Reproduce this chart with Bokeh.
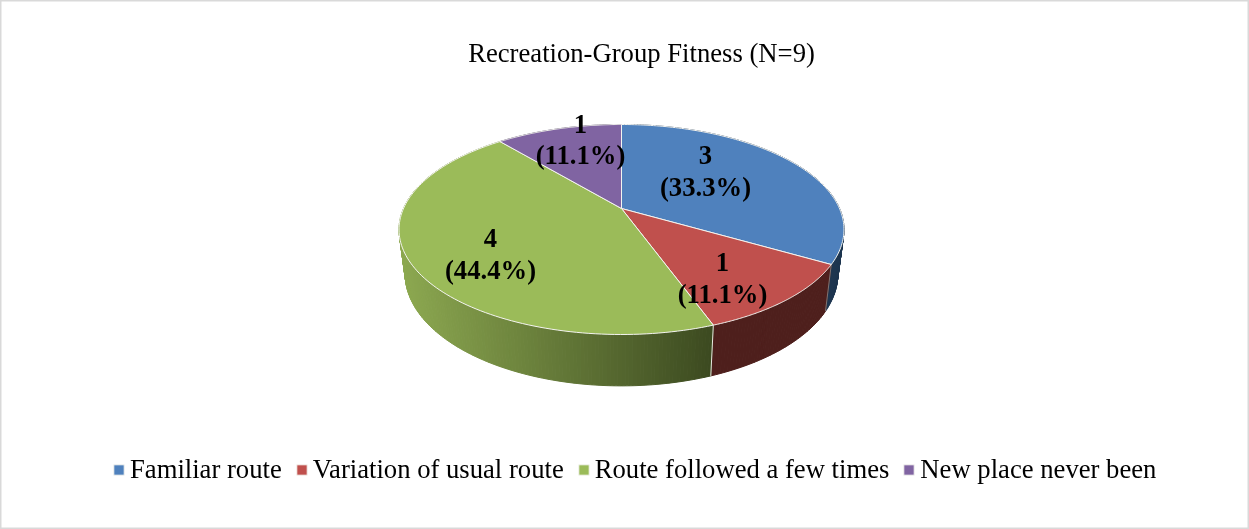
import numpy as np
from bokeh.embed import file_html
from bokeh.resources import INLINE
from bokeh.plotting import figure
from bokeh.models import Range1d, Legend, LegendItem
from bokeh.core.properties import value

# data
title = "Recreation-Group Fitness (N=9)"
categories = ["Familiar route", "Variation of usual route", "Route followed a few times", "New place never been"]
counts = [3, 1, 4, 1]
percent_labels = ["(33.3%)", "(11.1%)", "(44.4%)", "(11.1%)"]

# style
top_colors = ["#4f81bd", "#c0504d", "#9bbb59", "#8064a2"]
side_dark = ["#1e3650", "#4e1f1c", None, "#3d2f52"]
green_left = np.array([0x8c, 0xa8, 0x50])
green_right = np.array([0x3c, 0x4a, 0x20])
FONT = "Liberation Serif"
SIZE = "26.67px"

# layout: projective pie geometry in page pixels
CX = 621.0
TOP = dict(A=218.0, B=100.8, k=0.2, y0=208.0)
BOT = dict(A=212.0, B=107.5, k=0.2, y0=251.0)
label_pos = [(705, 154, 186), (722, 261, 293), (490, 237, 269), (580, 123, 154)]


def project(theta, g):
    u, v = np.sin(theta), np.cos(theta)
    w = 1 + g["k"] * v
    return CX + g["A"] * u / w, g["y0"] - g["B"] * v / w


p = figure(width=1249, height=529, output_backend="svg", toolbar_location=None,
           x_range=Range1d(0, 1249), y_range=Range1d(529, 0), min_border=0,
           x_axis_type=None, y_axis_type=None)
p.styles = {"position": "fixed", "left": "0", "top": "0"}
p.grid.visible = False
p.outline_line_color = "#d9d9d9"
p.outline_line_width = 2
p.background_fill_color = "white"

edges = np.cumsum([0] + counts) / sum(counts) * 2 * np.pi

# side wall, split into narrow strips
qx, qy, qc = [], [], []
for i in range(len(counts)):
    a0, a1 = edges[i], edges[i + 1]
    steps = max(2, int((a1 - a0) / np.radians(0.8)))
    t = np.linspace(a0, a1, steps + 1)
    tx, ty = project(t, TOP)
    bx, by = project(t, BOT)
    for j in range(steps):
        qx.append([tx[j], tx[j + 1], bx[j + 1], bx[j]])
        qy.append([ty[j], ty[j + 1], by[j + 1], by[j]])
        if side_dark[i] is None:
            f = np.clip(((tx[j] + tx[j + 1]) / 2 - 400) / 312, 0, 1)
            c = green_left + (green_right - green_left) * f
            qc.append("#%02x%02x%02x" % tuple(int(round(q)) for q in c))
        else:
            qc.append(side_dark[i])
p.patches(qx, qy, fill_color=qc, line_color=qc, line_width=1)

# light line where the red and green walls meet
sx, sy = project(edges[2], TOP)
ex, ey = project(edges[2], BOT)
p.line([sx, ex], [sy, ey], line_color="#e8e8e0", line_width=1)
sx, sy = project(edges[1], TOP)
ex, ey = project(edges[1], BOT)
p.line([sx, ex], [sy, ey], line_color="#8a8a8a", line_width=0.8)

# top face
items = []
for i, name in enumerate(categories):
    t = np.linspace(edges[i], edges[i + 1], 120)
    x, y = project(t, TOP)
    r = p.patch(np.r_[CX, x], np.r_[TOP["y0"], y], fill_color=top_colors[i],
                line_color="#f4f4f0", line_width=1)
    items.append(LegendItem(label=name, renderers=[r]))

# data labels
for i, (lx, y1, y2) in enumerate(label_pos):
    p.text([lx, lx], [y1, y2], text=[str(counts[i]), percent_labels[i]],
           text_font=value(FONT), text_font_size=SIZE, text_font_style="bold",
           text_align="center", text_baseline="alphabetic", text_color="black")

# title
p.text([641], [52], text=[title], text_font=value(FONT), text_font_size=SIZE,
       text_align="center", text_baseline="alphabetic", text_color="black")

legend = Legend(items=items, orientation="horizontal", location=(112, 529 - 485),
                glyph_width=13, glyph_height=13, label_standoff=5, spacing=13,
                padding=0, margin=0, background_fill_alpha=0, border_line_alpha=0,
                label_text_font=FONT, label_text_font_size=SIZE, label_text_color="black",
                label_height=20)
p.add_layout(legend)

open("out.html", "w").write(file_html(p, INLINE))
